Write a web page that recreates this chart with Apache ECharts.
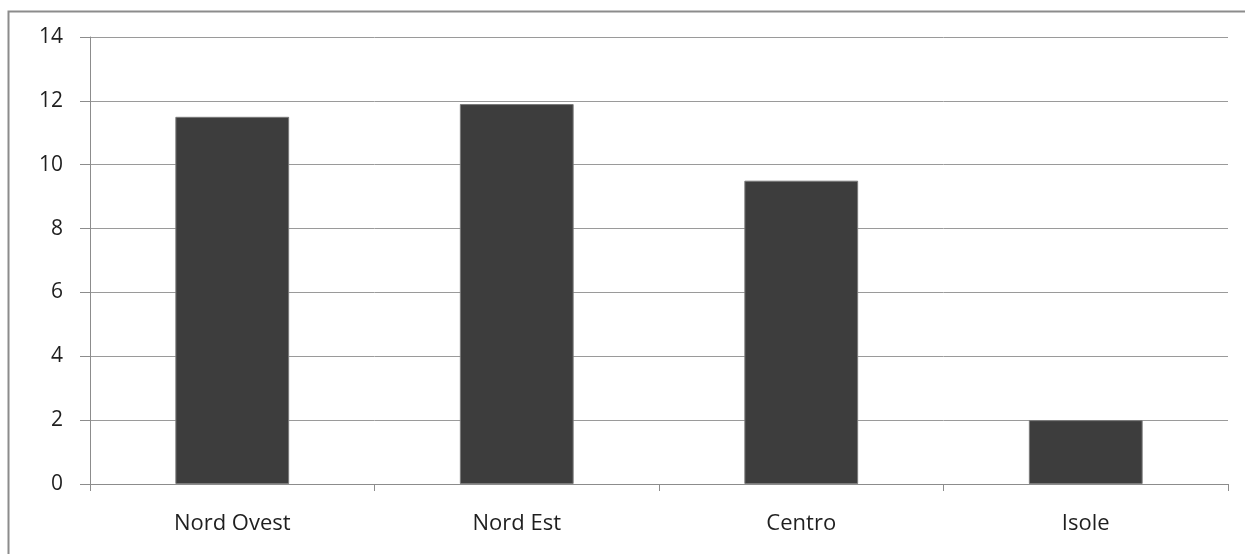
<!DOCTYPE html>
<html>
<head>
<meta charset="utf-8">
<style>
  html, body { margin: 0; padding: 0; background: #fff; }
  #chart { width: 1245px; height: 554px; }
</style>
<script src="https://cdn.jsdelivr.net/npm/echarts@6/dist/echarts.min.js"></script>
</head>
<body>
<div id="chart"></div>
<script>
// Regions and their values
const categories = ['Nord Ovest', 'Nord Est', 'Centro', 'Isole'];
const values = [11.5, 11.9, 9.5, 2.0];
const yTicks = [0, 2, 4, 6, 8, 10, 12, 14];

const chart = echarts.init(document.getElementById('chart'), null, { renderer: 'canvas' });
const font = '"Open Sans", "Noto Sans", sans-serif';

chart.setOption({
  animation: false,
  backgroundColor: '#ffffff',
  graphic: [{
    type: 'rect',
    shape: { x: 8.5, y: 11.5, width: 1260, height: 580 },
    style: { fill: 'none', stroke: '#8c8c8c', lineWidth: 2 },
    silent: true,
    z: -1
  }],
  grid: { left: 90, right: 17, top: 37, bottom: 70, containLabel: false },
  xAxis: {
    type: 'category',
    data: categories,
    axisLine: { show: true, lineStyle: { color: '#8c8c8c', width: 1 } },
    axisTick: { show: true, alignWithLabel: false, length: 7, lineStyle: { color: '#8c8c8c' } },
    axisLabel: { color: '#1f1f1f', fontSize: 22, fontFamily: font, margin: 29 },
    splitLine: { show: false }
  },
  yAxis: {
    type: 'value',
    min: yTicks[0],
    max: yTicks[yTicks.length - 1],
    interval: 2,
    axisLine: { show: true, lineStyle: { color: '#8c8c8c', width: 1 } },
    axisTick: { show: true, length: 10, lineStyle: { color: '#8c8c8c' } },
    axisLabel: { color: '#1f1f1f', fontSize: 21, fontFamily: font, margin: 27 },
    splitLine: { show: true, lineStyle: { color: '#9a9a9a', width: 1 } }
  },
  series: [{
    type: 'bar',
    data: values,
    barWidth: '40%',
    itemStyle: { color: '#3d3d3d', borderColor: '#7a7a7a', borderWidth: 1 }
  }]
});
</script>
</body>
</html>
